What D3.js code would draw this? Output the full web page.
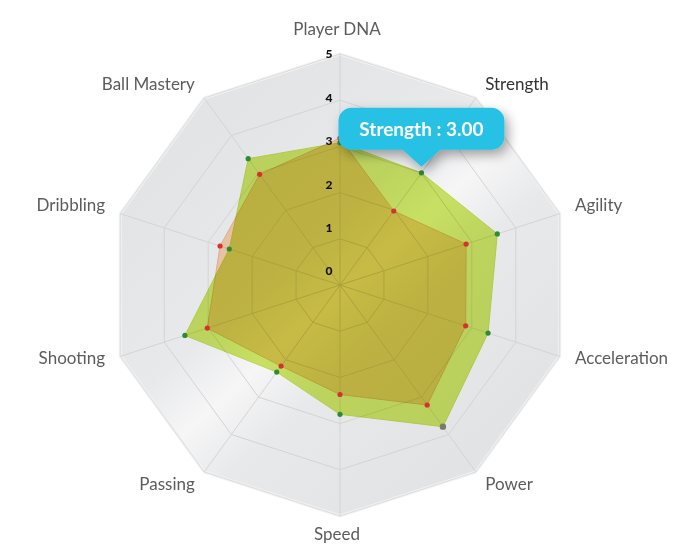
<!DOCTYPE html>
<html><head><meta charset="utf-8">
<script src="https://cdn.jsdelivr.net/npm/d3@7"></script>
<style>
html,body{margin:0;padding:0;background:#fff;}
svg{display:block;}
</style></head>
<body>
<svg id="chart" width="695" height="557"></svg>
<script>
const categories = ["Player DNA","Strength","Agility","Acceleration","Power","Speed","Passing","Shooting","Dribbling","Ball Mastery"];
const seriesGreen = [3.08, 3.00, 3.58, 3.37, 3.79, 2.80, 2.33, 3.53, 2.52, 3.38];
const seriesRed   = [3.18, 1.98, 2.87, 2.86, 3.21, 2.37, 2.17, 3.02, 2.73, 2.96];
const tickValues = [0, 1, 2, 3, 4, 5];
const hoverIndex = 1; // Strength

const W = 695, H = 557, cx = 340, cy = 285, R = 231;
const svg = d3.select("#chart");
const r = d3.scaleLinear().domain([0, 5]).range([0, R]);
const angle = d3.scalePoint().domain(categories).range([0, 2*Math.PI * (categories.length-1)/categories.length]);
const pt = (cat, v) => { const a = angle(cat); return [cx + r(v)*Math.sin(a), cy - r(v)*Math.cos(a)]; };

const defs = svg.append("defs");
const g1 = defs.append("linearGradient").attr("id","bg").attr("gradientUnits","userSpaceOnUse")
  .attr("x1",220).attr("y1",120).attr("x2",500).attr("y2",430);
[[0,"#e3e4e6"],[0.36,"#e8e9eb"],[0.5,"#f6f6f7"],[0.64,"#e8e9ea"],[1,"#e2e3e5"]].forEach(s=>g1.append("stop").attr("offset",s[0]).attr("stop-color",s[1]));
const f = defs.append("filter").attr("id","sh").attr("x","-30%").attr("y","-30%").attr("width","170%").attr("height","190%");
f.append("feDropShadow").attr("dx",4).attr("dy",5).attr("stdDeviation",6).attr("flood-color","#000").attr("flood-opacity",0.35);

const line = d3.line();
const ringPts = v => categories.map(c => pt(c, v));

// background
svg.append("path").attr("d", line(ringPts(5)) + "Z").attr("fill","url(#bg)").attr("stroke","#f2f2f2").attr("stroke-width",3);
// rings
tickValues.filter(v=>v>0).forEach(v=>{
  svg.append("path").attr("d", line(ringPts(v)) + "Z").attr("fill","none").attr("stroke", v===5?"#dcdcdc":"#d4d4d4").attr("stroke-width",1);
});
// spokes
categories.forEach(c=>{
  const p = pt(c,5);
  svg.append("line").attr("x1",cx).attr("y1",cy).attr("x2",p[0]).attr("y2",p[1]).attr("stroke","#d4d4d4").attr("stroke-width",1);
});

// series
const area = (vals) => line(categories.map((c,i)=>pt(c, vals[i]))) + "Z";
svg.append("path").attr("d", area(seriesRed)).attr("fill","#ffd6b2").attr("stroke","#f3c09a").attr("stroke-width",1).style("mix-blend-mode","multiply");
svg.append("path").attr("d", area(seriesGreen)).attr("fill","#cfe866").attr("stroke","#c4df52").attr("stroke-width",1).style("mix-blend-mode","multiply");

// dots
categories.forEach((c,i)=>{
  const p = pt(c, seriesRed[i]);
  svg.append("circle").attr("cx",p[0]).attr("cy",p[1]).attr("r",2.6).attr("fill","#d8302f");
});
categories.forEach((c,i)=>{
  const p = pt(c, seriesGreen[i]);
  const special = c === "Power";
  svg.append("circle").attr("cx",p[0]).attr("cy",p[1]).attr("r",special?3.2:2.6).attr("fill",special?"#7a7a6a":"#2f8a36");
});

// tick labels
const tickY = d3.scaleLinear().domain([0,5]).range([cy-14, cy-R]);
tickValues.forEach(v=>{
  svg.append("text").attr("x",cx-11).attr("y",tickY(v)).attr("dy","0.36em").attr("text-anchor","middle")
    .attr("font-family","Lato, 'DejaVu Sans', sans-serif").attr("font-weight","900").attr("font-size",12).attr("fill","#111").text(v);
});

// category labels
categories.forEach((c,i)=>{
  const a = angle(c), s = Math.sin(a), co = Math.cos(a);
  const rr = R + 16;
  let x = cx + rr*s, y = cy - rr*co + 6 - 5*(1-Math.abs(co));
  if (co > 0.95) y -= 9;
  if (co < -0.95) y += 2;
  const anchor = s > 0.1 ? "start" : (s < -0.1 ? "end" : "middle");
  if (anchor === "middle") x -= 3;
  svg.append("text").attr("x",x).attr("y",y).attr("text-anchor",anchor)
    .attr("font-family","Lato, 'Open Sans', sans-serif").attr("font-size",17)
    .attr("fill", i===hoverIndex ? "#333" : "#5c5c5c").text(c);
});

// tooltip
const tp = pt(categories[hoverIndex], seriesGreen[hoverIndex]);
const tipX = tp[0], tipY = tp[1] - 6;
const bw = 166, bh = 42, bx = tipX - bw/2, by = tipY - 17 - bh, rad = 13, pw = 19;
const tpath = d3.path();
tpath.moveTo(bx+rad, by);
tpath.lineTo(bx+bw-rad, by); tpath.arcTo(bx+bw, by, bx+bw, by+rad, rad);
tpath.lineTo(bx+bw, by+bh-rad); tpath.arcTo(bx+bw, by+bh, bx+bw-rad, by+bh, rad);
tpath.lineTo(tipX+pw, by+bh); tpath.lineTo(tipX, tipY); tpath.lineTo(tipX-pw, by+bh);
tpath.lineTo(bx+rad, by+bh); tpath.arcTo(bx, by+bh, bx, by+bh-rad, rad);
tpath.lineTo(bx, by+rad); tpath.arcTo(bx, by, bx+rad, by, rad);
tpath.closePath();
svg.append("path").attr("d", tpath.toString()).attr("fill","#25c1e5").attr("filter","url(#sh)");
svg.append("text").attr("x",tipX).attr("y",by+28).attr("text-anchor","middle")
  .attr("font-family","Lato, sans-serif").attr("font-weight","bold").attr("font-size",19).attr("fill","#fff")
  .text(categories[hoverIndex] + " : " + seriesGreen[hoverIndex].toFixed(2));
</script>
</body></html>
